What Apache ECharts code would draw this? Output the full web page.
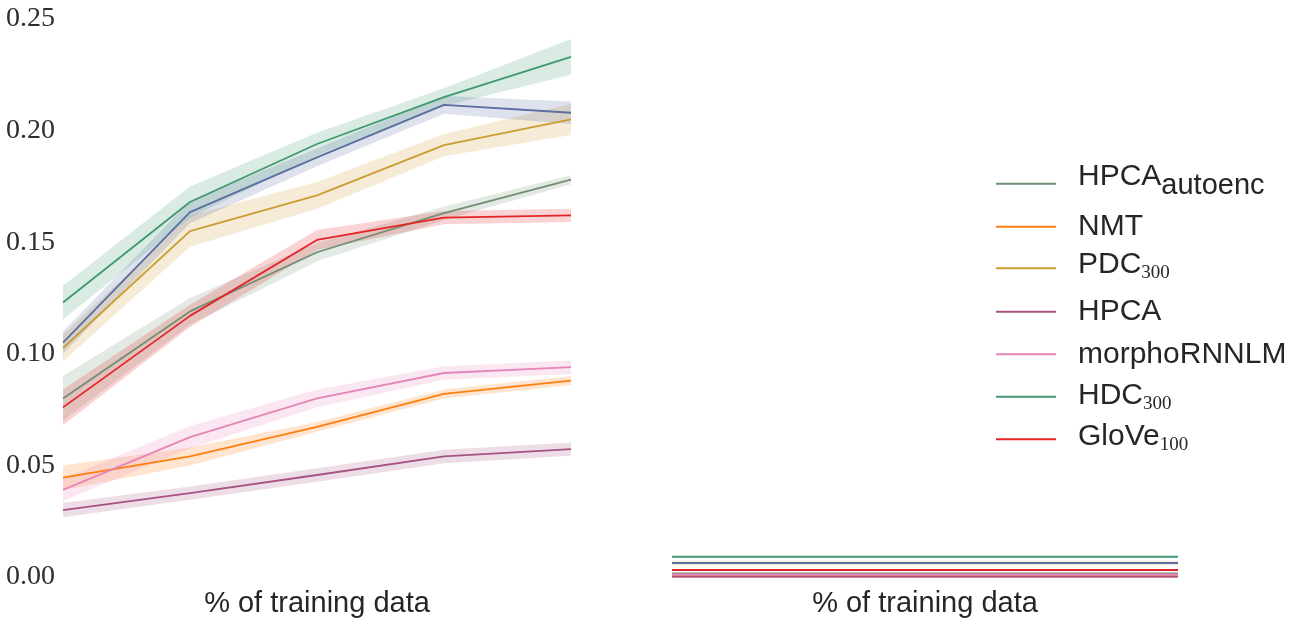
<!DOCTYPE html>
<html><head><meta charset="utf-8">
<script src="https://cdn.jsdelivr.net/npm/echarts@6/dist/echarts.min.js"></script>
<style>html,body{margin:0;padding:0;background:#fff}#c{width:1315px;height:626px}</style>
</head><body><div id="c"></div>
<script>
// ---- data ----
const trainingSteps = ['20%', '40%', '60%', '80%', '100%'];
const yMin = 0, yMax = 0.25, yStep = 0.05;
const xAxisTitle = '% of training data';

// left panel: mean and confidence half-width
const hpcaAutoencMean = [0.080, 0.119, 0.1455, 0.163, 0.178];
const hpcaAutoencCi   = [0.010, 0.006, 0.004, 0.003, 0.002];
const nmtMean         = [0.0445, 0.054, 0.0673, 0.082, 0.088];
const nmtCi           = [0.0055, 0.004, 0.0022, 0.002, 0.002];
const pdc300Mean      = [0.1026, 0.155, 0.171, 0.1935, 0.205];
const pdc300Ci        = [0.006, 0.007, 0.006, 0.005, 0.007];
const hpcaMean        = [0.030, 0.0376, 0.0457, 0.054, 0.0573];
const hpcaCi          = [0.0032, 0.003, 0.003, 0.003, 0.003];
const morphoMean      = [0.039, 0.0627, 0.080, 0.0914, 0.094];
const morphoCi        = [0.005, 0.005, 0.004, 0.003, 0.003];
const hdc300Mean      = [0.123, 0.168, 0.194, 0.215, 0.233];
const hdc300Ci        = [0.0075, 0.007, 0.005, 0.004, 0.008];
const glove100Mean    = [0.076, 0.117, 0.151, 0.161, 0.162];
const glove100Ci      = [0.008, 0.005, 0.0045, 0.003, 0.003];
const unlabeledMean   = [0.105, 0.1635, 0.188, 0.2115, 0.208];
const unlabeledCi     = [0.005, 0.005, 0.004, 0.004, 0.005];

// right panel
const hpcaAutoencRight = [0.0016, 0.0016, 0.0016, 0.0016, 0.0016];
const nmtRight         = [0.0002, 0.0002, 0.0002, 0.0002, 0.0002];
const pdc300Right      = [0.0063, 0.0063, 0.0063, 0.0063, 0.0063];
const pdc300RightCi    = [0.0010, 0.0010, 0.0010, 0.0010, 0.0010];
const hpcaRight        = [0.0002, 0.0002, 0.0002, 0.0002, 0.0002];
const morphoRight      = [0.0011, 0.0011, 0.0011, 0.0011, 0.0011];
const hdc300Right      = [0.0091, 0.0091, 0.0091, 0.0091, 0.0091];
const glove100Right    = [0.0031, 0.0031, 0.0031, 0.0031, 0.0031];
const unlabeledRight   = [0.0063, 0.0063, 0.0063, 0.0063, 0.0063];

const legendNames = ['HPCA_autoenc', 'NMT', 'PDC_300', 'HPCA', 'morphoRNNLM', 'HDC_300', 'GloVe_100'];

// ---- styles ----
const colors = {
  'HPCA_autoenc': '#718f73', 'NMT': '#ff7f0e', 'PDC_300': '#cc9c33', 'HPCA': '#a65382',
  'morphoRNNLM': '#e585b8', 'HDC_300': '#3f9a70', 'GloVe_100': '#e52428', 'other': '#5a6ea0'
};

const defs = [
  {name: 'HPCA_autoenc', mean: hpcaAutoencMean, ci: hpcaAutoencCi, right: hpcaAutoencRight},
  {name: 'NMT', mean: nmtMean, ci: nmtCi, right: nmtRight},
  {name: 'PDC_300', mean: pdc300Mean, ci: pdc300Ci, right: pdc300Right, rightCi: pdc300RightCi},
  {name: 'HPCA', mean: hpcaMean, ci: hpcaCi, right: hpcaRight},
  {name: 'morphoRNNLM', mean: morphoMean, ci: morphoCi, right: morphoRight},
  {name: 'HDC_300', mean: hdc300Mean, ci: hdc300Ci, right: hdc300Right},
  {name: 'GloVe_100', mean: glove100Mean, ci: glove100Ci, right: glove100Right},
  {name: 'other', mean: unlabeledMean, ci: unlabeledCi, right: unlabeledRight}
];

const series = [];
function addBand(id, mean, ci, color, gi) {
  series.push({
    type: 'line', name: id + '_lo', xAxisIndex: gi, yAxisIndex: gi, stack: id,
    data: mean.map((m, i) => m - ci[i]), symbol: 'none', silent: true,
    lineStyle: {opacity: 0}, z: 1
  });
  series.push({
    type: 'line', name: id + '_hi', xAxisIndex: gi, yAxisIndex: gi, stack: id,
    data: ci.map(c => 2 * c), symbol: 'none', silent: true,
    lineStyle: {opacity: 0}, areaStyle: {color: color, opacity: 0.2}, z: 1
  });
}
defs.forEach(d => {
  addBand('L_' + d.name, d.mean, d.ci, colors[d.name], 0);
  if (d.rightCi) addBand('R_' + d.name, d.right, d.rightCi, colors[d.name], 1);
});
defs.forEach(d => {
  series.push({
    type: 'line', name: d.name, xAxisIndex: 0, yAxisIndex: 0, data: d.mean,
    symbol: 'none', color: colors[d.name], lineStyle: {width: 1.8, color: colors[d.name]}, z: 3
  });
  series.push({
    type: 'line', name: d.name + '_right', xAxisIndex: 1, yAxisIndex: 1, data: d.right,
    symbol: 'none', color: colors[d.name], lineStyle: {width: 2, color: colors[d.name]}, z: 3
  });
});

const labelFmt = {
  'HPCA_autoenc': 'HPCA{sa|autoenc}', 'NMT': 'NMT', 'PDC_300': 'PDC{ss|300}', 'HPCA': 'HPCA',
  'morphoRNNLM': 'morphoRNNLM', 'HDC_300': 'HDC{ss|300}', 'GloVe_100': 'GloVe{ss|100}'
};
const legendIconY = [183.3, 226.7, 268.3, 311.7, 354.3, 396.7, 439.3];
const legendPadBottom = [15, 0, 7, 0, 0, 2, 5];
const legendTopFix = [-6, 0, 0, 0, 0, 0, 0];
const LH = 36;
const legends = legendNames.map((n, i) => ({
  data: [n], left: 996, top: legendIconY[i] - (LH + legendPadBottom[i]) / 2 + legendTopFix[i],
  padding: 0, orient: 'vertical', icon: 'rect', itemWidth: 60, itemHeight: 2,
  selectedMode: false, formatter: name => labelFmt[name],
  textStyle: {
    fontFamily: 'Liberation Sans', fontSize: 30, color: '#262626', lineHeight: LH,
    padding: [0, 0, legendPadBottom[i], 17],
    rich: {
      sa: {fontFamily: 'Liberation Sans', fontSize: 29, color: '#262626', lineHeight: LH, padding: [20, 0, 0, 0]},
      ss: {fontFamily: 'Liberation Serif', fontSize: 19, color: '#262626', lineHeight: LH, padding: [17, 0, 0, 0]}
    }
  }
}));

function xAxis(gi) {
  return {
    type: 'category', gridIndex: gi, data: trainingSteps, boundaryGap: false,
    axisLine: {show: false}, axisTick: {show: false}, axisLabel: {show: false}, splitLine: {show: false},
    name: xAxisTitle, nameLocation: 'middle', nameGap: 12,
    nameTextStyle: {fontFamily: 'Liberation Sans', fontSize: 29, color: '#262626'}
  };
}
function yAxis(gi, showLabels) {
  return {
    type: 'value', gridIndex: gi, min: yMin, max: yMax, interval: yStep,
    axisLine: {show: false}, axisTick: {show: false}, splitLine: {show: false},
    axisLabel: {show: showLabels, margin: 8, fontFamily: 'Liberation Serif', fontSize: 28, color: '#2e2e2e',
      padding: [4, 0, 0, 0], formatter: v => v.toFixed(2)}
  };
}

const chart = echarts.init(document.getElementById('c'), null, {renderer: 'canvas'});
chart.setOption({
  animation: false,
  backgroundColor: '#ffffff',
  grid: [
    {left: 63, width: 508, top: 19, bottom: 49},
    {left: 672, width: 506, top: 19, bottom: 49}
  ],
  xAxis: [xAxis(0), xAxis(1)],
  yAxis: [yAxis(0, true), yAxis(1, false)],
  legend: legends,
  series: series
});
</script>
</body></html>
